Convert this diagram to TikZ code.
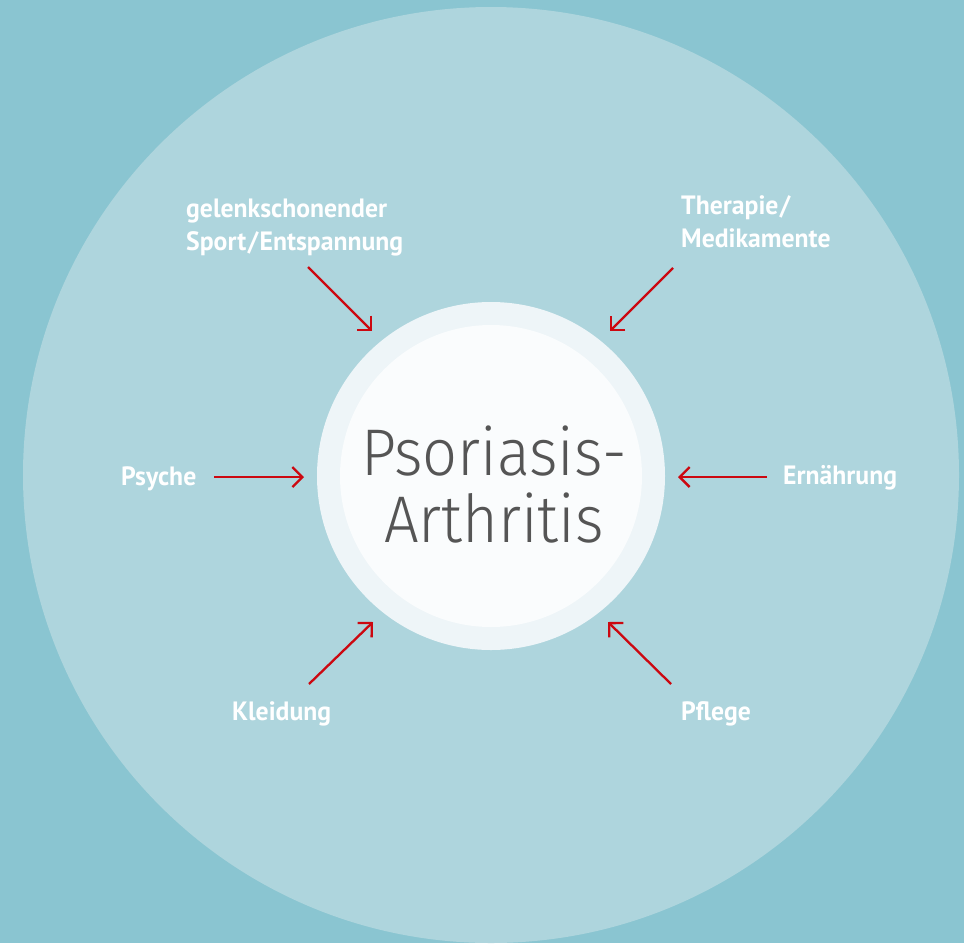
\documentclass[tikz,border=0pt]{standalone}
\usepackage{fontspec}
\usetikzlibrary{arrows.meta}
\newfontfamily\labelfont[FakeStretch=0.97]{PT Sans}
\newfontfamily\titlefont[FakeStretch=0.93]{Fira Sans Light}
\definecolor{bgblue}{RGB}{138,197,209}
\definecolor{bigcirc}{RGB}{174,213,221}
\definecolor{ringc}{RGB}{238,245,248}
\definecolor{innerc}{RGB}{250,252,253}
\definecolor{titlegray}{RGB}{85,85,85}
\definecolor{arrred}{RGB}{204,8,16}
\tikzset{
  lbl/.style={text=white, inner sep=0pt, align=left,
    font=\labelfont\bfseries\fontsize{26.5}{33}\selectfont},
  arr/.style={draw=arrred, line width=2.3pt, -{Straight Barb[length=10pt,width=20pt]}},
  title/.style={text=titlegray, inner sep=0pt, align=center,
    font=\titlefont\fontsize{66}{67}\selectfont}
}
\begin{document}
\begin{tikzpicture}[x=1pt,y=-1pt]
\useasboundingbox (0,0) rectangle (964,943);
\fill[bgblue] (0,0) rectangle (964,943);
\begin{scope}
\clip (0,0) rectangle (964,943);
\fill[bigcirc] (491,475) circle[radius=468pt];
\end{scope}
\fill[ringc] (491,476) circle[radius=174pt];
\node[circle, fill=innerc, minimum size=302pt, inner sep=0pt] (core) at (491,476) {};
\node[title, anchor=base] (t1) at (494,475) {Psoriasis-};
\node[title, anchor=base] (t2) at (494,542) {Arthritis};

\node[lbl, anchor=base west] (sport) at (186,250) {gelenkschonender\\Sport\kern1.5pt/\kern1.5pt Entspannung};
\node[lbl, anchor=base west] (ther) at (681,247) {Therapie\kern1.5pt/\\Medikamente};
\node[lbl, anchor=base west] (psy) at (121,485) {Psyche};
\node[lbl, anchor=base west] (ern) at (783,484) {Ernährung};
\node[lbl, anchor=base west] (kle) at (232,720) {Kleidung};
\node[lbl, anchor=base west] (pfl) at (681,720) {Pflege};

\coordinate (a1s) at (308,267); \coordinate (a1e) at (372,331);
\coordinate (a2s) at (673,268); \coordinate (a2e) at (610,331);
\coordinate (a3s) at (214,477); \coordinate (a3e) at (304,477);
\coordinate (a4s) at (767,477); \coordinate (a4e) at (678,477);
\coordinate (a5s) at (309,684); \coordinate (a5e) at (373,622);
\coordinate (a6s) at (671,684); \coordinate (a6e) at (608,622);
\draw[arr] (a1s) -- (a1e);
\draw[arr] (a2s) -- (a2e);
\draw[arr] (a3s) -- (a3e);
\draw[arr] (a4s) -- (a4e);
\draw[arr] (a5s) -- (a5e);
\draw[arr] (a6s) -- (a6e);
\end{tikzpicture}
\end{document}
